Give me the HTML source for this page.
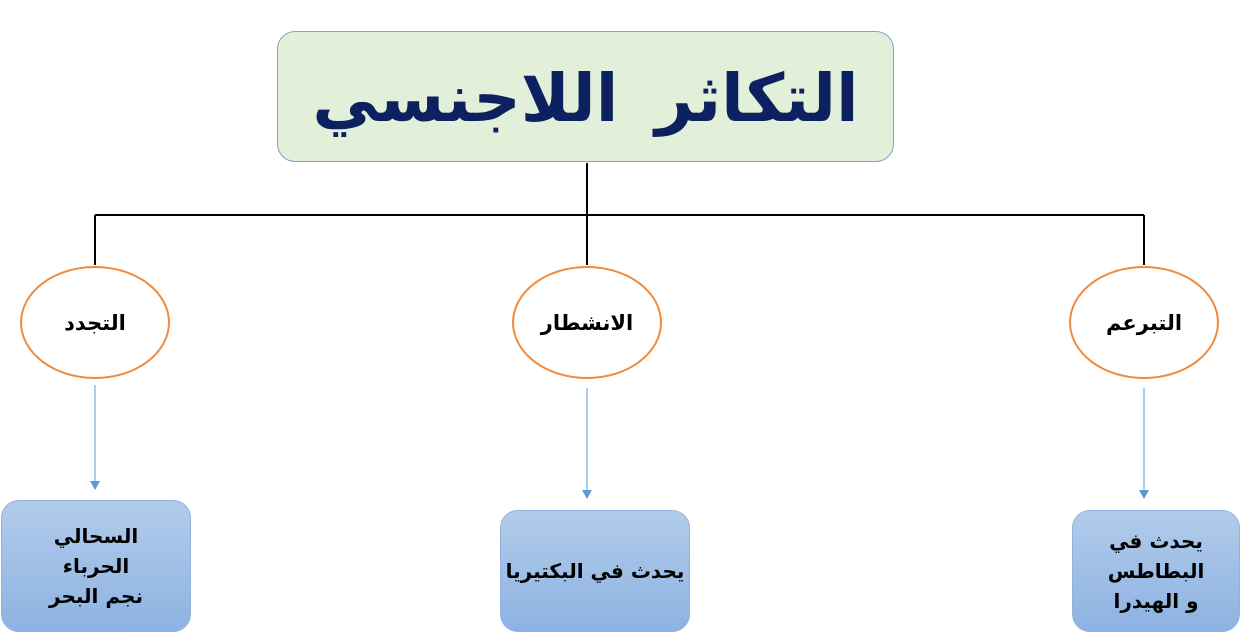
<!DOCTYPE html>
<html><head><meta charset="utf-8"><style>
body{margin:0;width:1240px;height:634px;background:#fff;position:relative;overflow:hidden;font-family:"DejaVu Sans",sans-serif}
.abs{position:absolute}
.title{left:277px;top:31px;width:617px;height:131px;border:1.5px solid #7fa4c8;border-radius:18px;background:#e2efd9;display:flex;align-items:center;justify-content:center;color:#0d2160;font-size:66px;font-weight:bold;direction:rtl;white-space:nowrap;word-spacing:14px;box-sizing:border-box;padding-top:4px}
.ell{width:150px;height:113px;border:2px solid #f08a3c;border-radius:50%;background:#fff;display:flex;align-items:center;justify-content:center;font-size:21px;font-weight:bold;direction:rtl;box-sizing:border-box}
.box{border:1px solid #8fb3dd;border-radius:18px;background:linear-gradient(#b2cbea,#8db3e2);display:flex;align-items:center;justify-content:center;text-align:center;font-size:20px;font-weight:bold;direction:rtl;line-height:1.5;box-sizing:border-box}
</style></head><body>
<svg class="abs" style="left:0;top:0" width="1240" height="634">
<path d="M587 163V265M95 215H1144M95 215V265M1144 215V265" stroke="#000" stroke-width="2" fill="none"/>
<g stroke="#5b9bd5" stroke-width="1"><line x1="95" y1="385" x2="95" y2="482"/><line x1="587" y1="388" x2="587" y2="491"/><line x1="1144" y1="388" x2="1144" y2="491"/></g>
<g fill="#5b9bd5"><path d="M90 481h10l-5 9z"/><path d="M582 490h10l-5 9z"/><path d="M1139 490h10l-5 9z"/></g>
</svg>
<div class="abs title">التكاثر اللاجنسي</div>
<div class="abs ell" style="left:20px;top:266px">التجدد</div>
<div class="abs ell" style="left:512px;top:266px">الانشطار</div>
<div class="abs ell" style="left:1069px;top:266px">التبرعم</div>
<div class="abs box" style="left:1px;top:500px;width:190px;height:132px">السحالي<br>الحرباء<br>نجم البحر</div>
<div class="abs box" style="left:500px;top:510px;width:190px;height:122px">يحدث في البكتيريا</div>
<div class="abs box" style="left:1072px;top:510px;width:168px;height:122px">يحدث في<br>البطاطس<br>و الهيدرا</div>
</body></html>
